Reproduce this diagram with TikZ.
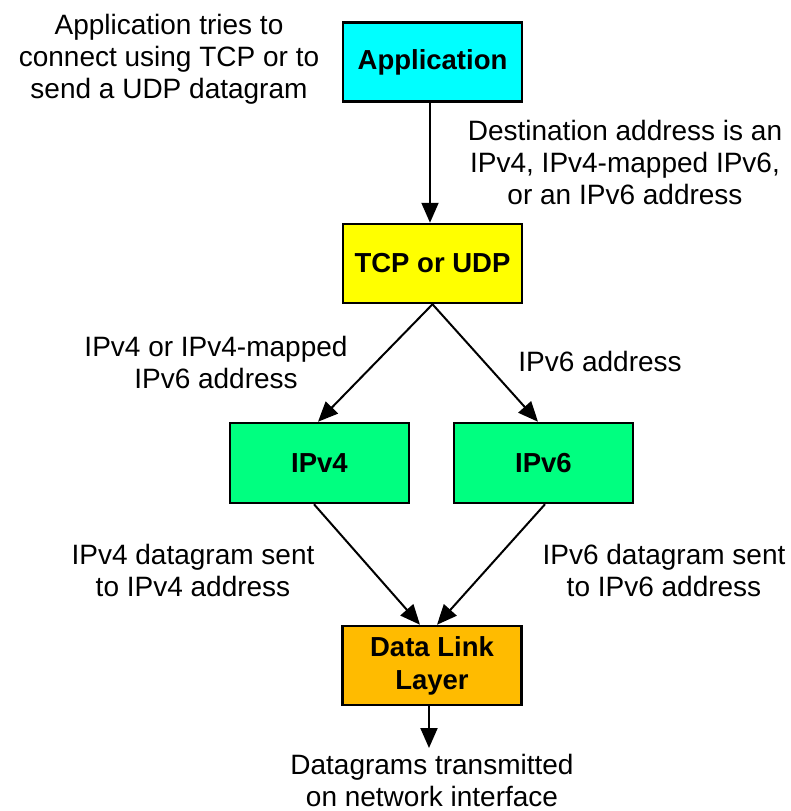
\documentclass[tikz,border=0pt]{standalone}
\usepackage{fontspec}
\setmainfont{Liberation Sans}
\usetikzlibrary{arrows.meta,calc}
\definecolor{appcol}{RGB}{0,255,255}
\definecolor{tcpcol}{RGB}{255,255,0}
\definecolor{ipcol}{RGB}{0,255,128}
\definecolor{dllcol}{RGB}{255,187,0}
\begin{document}
\begin{tikzpicture}[x=1pt,y=-1pt,
  box/.style={draw=black,line width=2.5pt,minimum width=179pt,minimum height=79pt,inner sep=0pt,align=center,font=\fontsize{27.5}{33}\selectfont\bfseries},
  note/.style={inner sep=0pt,align=center,font=\fontsize{28}{32}\selectfont},
  arr/.style={line width=2pt,-{Triangle[length=20pt,width=17pt]}}]
\useasboundingbox (0,0) rectangle (790,811);
\node[box,fill=appcol] (app) at (432.5,62) {Application};
\node[box,fill=tcpcol] (tcp) at (432.5,263.5) {TCP or UDP};
\node[box,fill=ipcol,minimum height=80pt] (ipv4) at (319.5,463) {IPv4};
\node[box,fill=ipcol,minimum height=80pt] (ipv6) at (543.5,463) {IPv6};
\node[box,fill=dllcol] (dll) at (432,665.5) {Data Link\\Layer};
\coordinate (out) at (429,748);
\node[note] (n1) at (169,59) {Application tries to\\connect using TCP or to\\send a UDP datagram};
\node[note] (n2) at (625,162) {Destination address is an\\IPv4, IPv4-mapped IPv6,\\or an IPv6 address};
\node[note] (n3) at (216,362) {IPv4 or IPv4-mapped\\IPv6 address};
\node[note] (n4) at (600,361) {IPv6 address};
\node[note] (n5) at (193,570) {IPv4 datagram sent\\to IPv4 address};
\node[note] (n6) at (664,570) {IPv6 datagram sent\\to IPv6 address};
\node[note] (n7) at (432,780) {Datagrams transmitted\\on network interface};
\draw[arr] ($(app.south)+(-2.5,0)$) -- ($(tcp.north)+(-2.5,0)$);
\draw[arr] (tcp.south) -- ($(ipv4.north)+(-1.5,0)$);
\draw[arr] (tcp.south) -- ($(ipv6.north)+(-5.5,0)$);
\draw[arr] ($(ipv4.south)+(-5.5,0)$) -- ($(dll.north)+(-12,0)$);
\draw[arr] ($(ipv6.south)+(1.5,0)$) -- ($(dll.north)+(5,0)$);
\draw[arr] ($(dll.south)+(-3,0)$) -- (out);
\end{tikzpicture}
\end{document}
